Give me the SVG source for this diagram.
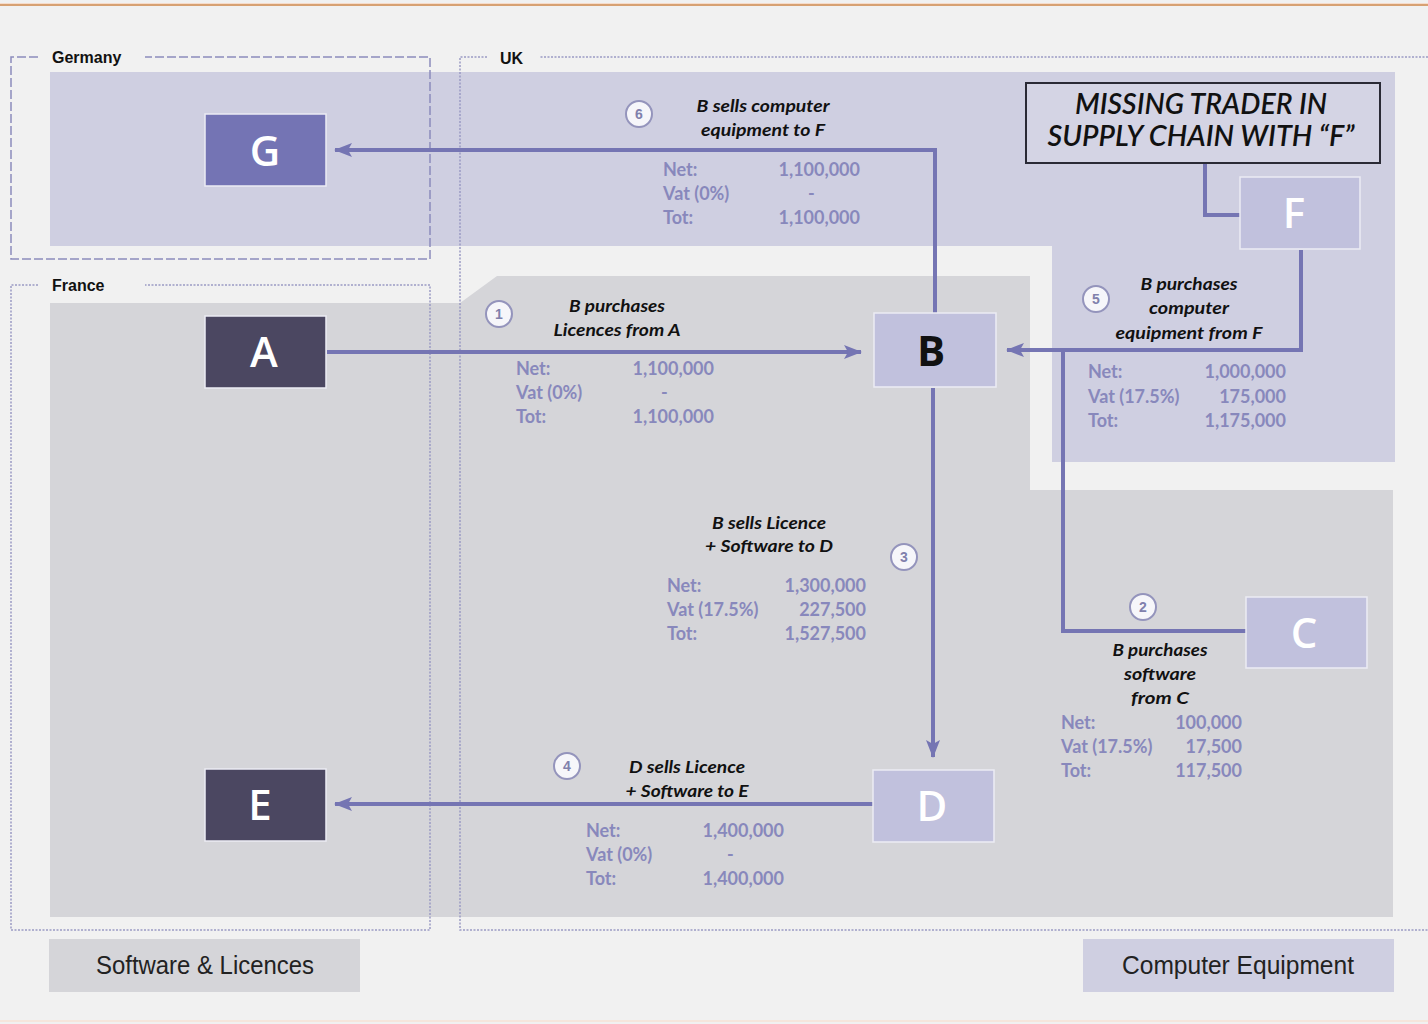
<svg xmlns="http://www.w3.org/2000/svg" width="1428" height="1024" viewBox="0 0 1428 1024">
<defs>
<style>
.cl{font-family:"Liberation Sans",Arial,sans-serif;font-weight:bold;font-size:16px;fill:#111}
.lbl{font-family:"Lato","Liberation Sans",sans-serif;font-style:italic;font-weight:bold;font-size:17px;fill:#111;text-anchor:middle}
.val{font-family:"Lato","Liberation Sans",sans-serif;font-weight:bold;font-size:18px;fill:#8888bc}
.vr{text-anchor:end}
.num{font-family:"Liberation Sans",Arial,sans-serif;font-weight:bold;font-size:14px;fill:#8080ac;text-anchor:middle}
.nc{fill:#f6f6fa;stroke:#9494bc;stroke-width:2}
.nl{font-family:"Open Sans","Liberation Sans",sans-serif;font-weight:600;font-size:42px;fill:#fff;text-anchor:middle}
.conn{fill:none;stroke:#7575b3;stroke-width:4}
.dash{fill:none;stroke:#8c8cbc;stroke-width:1.5;stroke-dasharray:9 3}
.dot{fill:none;stroke:#9a9ac4;stroke-width:1.5;stroke-dasharray:2 1.5}
.leg{font-family:"Liberation Sans",Arial,sans-serif;font-size:25px;fill:#222;text-anchor:middle}
</style>
<marker id="ah" viewBox="0 0 18 14" refX="17" refY="7" markerWidth="18" markerHeight="14" markerUnits="userSpaceOnUse" orient="auto">
<path d="M0,0 L18,7 L0,14 L4,7 Z" fill="#7575b3"/>
</marker>
</defs>
<rect width="1428" height="1024" fill="#f1f1f1"/>
<rect x="0" y="3" width="1428" height="3" fill="#f6dccb"/>
<line x1="0" y1="5" x2="1428" y2="5" stroke="#d7a173" stroke-width="2"/>
<line x1="0" y1="1021" x2="1428" y2="1021" stroke="#f6e6dc" stroke-width="2"/>

<g id="regions">
<path d="M50,72 H1395 V462 H1052 V246 H50 Z" fill="#cfcfe1"/>
<path d="M50,303 H460 L497,276 H1030 V490 H1393 V917 H50 Z" fill="#d5d5d9"/>
</g>

<g id="germany">
<path class="dash" d="M38,57 H11 V259 H430 V57 H145"/>
<text class="cl" x="52" y="63">Germany</text>
</g>
<g id="france">
<path class="dot" d="M38,285 H11 V930 H430 V285 H145"/>
<text class="cl" x="52" y="291">France</text>
</g>
<g id="uk">
<path class="dot" d="M487,57 H460 V930 H1428 M1428,57 H540"/>
<text class="cl" x="500" y="64">UK</text>
</g>

<g id="connectors">
<path class="conn" d="M935,313 V150 H335" marker-end="url(#ah)"/>
<path class="conn" d="M327,352 H861" marker-end="url(#ah)"/>
<path class="conn" d="M1301,250 V350 H1007" marker-end="url(#ah)"/>
<path class="conn" d="M1246,631 H1063 V350"/>
<path class="conn" d="M933,388 V757" marker-end="url(#ah)"/>
<path class="conn" d="M873,804 H335" marker-end="url(#ah)"/>
<path class="conn" d="M1205,163 V215 H1240"/>
</g>

<g id="node-G"><rect x="205" y="114" width="121" height="72" fill="#7474b4" stroke="#ececf4" stroke-width="1.5"/><text class="nl" x="265" y="166">G</text></g>
<g id="node-A"><rect x="205" y="316" width="121" height="72" fill="#4b4761" stroke="#ececf4" stroke-width="1.5"/><text class="nl" x="264" y="367">A</text></g>
<g id="node-E"><rect x="205" y="769" width="121" height="72" fill="#4b4761" stroke="#ececf4" stroke-width="1.5"/><text class="nl" x="260" y="820">E</text></g>
<g id="node-B"><rect x="874" y="313" width="122" height="74" fill="#c1c1dd" stroke="#ececf4" stroke-width="1.5"/><text class="nl" x="931" y="366" style="fill:#111;font-weight:700">B</text></g>
<g id="node-F"><rect x="1240" y="177" width="120" height="72" fill="#c1c1dd" stroke="#ececf4" stroke-width="1.5"/><text class="nl" x="1294" y="228">F</text></g>
<g id="node-C"><rect x="1246" y="597" width="121" height="71" fill="#c1c1dd" stroke="#ececf4" stroke-width="1.5"/><text class="nl" x="1304" y="648">C</text></g>
<g id="node-D"><rect x="873" y="770" width="121" height="72" fill="#c1c1dd" stroke="#ececf4" stroke-width="1.5"/><text class="nl" x="932" y="821">D</text></g>

<g id="title">
<rect x="1026" y="83" width="354" height="80" fill="#d4d4e4" stroke="#2a2a35" stroke-width="2"/>
<text x="1201" y="114" font-family="Lato, 'Liberation Sans', sans-serif" font-style="italic" font-weight="600" font-size="29" fill="#111" text-anchor="middle" textLength="252" lengthAdjust="spacingAndGlyphs">MISSING TRADER IN</text>
<text x="1201" y="146" font-family="Lato, 'Liberation Sans', sans-serif" font-style="italic" font-weight="600" font-size="29" fill="#111" text-anchor="middle" textLength="307" lengthAdjust="spacingAndGlyphs">SUPPLY CHAIN WITH “F”</text>
</g>

<g id="label-6">
<circle class="nc" cx="639" cy="114" r="13"/><text class="num" x="639" y="119">6</text>
<text class="lbl" x="763" y="112" textLength="133" lengthAdjust="spacingAndGlyphs">B sells computer</text>
<text class="lbl" x="763" y="136" textLength="124" lengthAdjust="spacingAndGlyphs">equipment to F</text>
<text class="val" x="663" y="176">Net:</text><text class="val vr" x="860" y="176">1,100,000</text>
<text class="val" x="663" y="200">Vat (0%)</text><text class="val" x="808" y="200">-</text>
<text class="val" x="663" y="224">Tot:</text><text class="val vr" x="860" y="224">1,100,000</text>
</g>

<g id="label-1">
<circle class="nc" cx="499" cy="314" r="13"/><text class="num" x="499" y="319">1</text>
<text class="lbl" x="617" y="312" textLength="96" lengthAdjust="spacingAndGlyphs">B purchases</text>
<text class="lbl" x="617" y="336" textLength="127" lengthAdjust="spacingAndGlyphs">Licences from A</text>
<text class="val" x="516" y="375">Net:</text><text class="val vr" x="714" y="375">1,100,000</text>
<text class="val" x="516" y="399">Vat (0%)</text><text class="val" x="661" y="399">-</text>
<text class="val" x="516" y="423">Tot:</text><text class="val vr" x="714" y="423">1,100,000</text>
</g>

<g id="label-5">
<circle class="nc" cx="1096" cy="299" r="13"/><text class="num" x="1096" y="304">5</text>
<text class="lbl" x="1189" y="290" textLength="97" lengthAdjust="spacingAndGlyphs">B purchases</text>
<text class="lbl" x="1189" y="314" textLength="80" lengthAdjust="spacingAndGlyphs">computer</text>
<text class="lbl" x="1189" y="339" textLength="147" lengthAdjust="spacingAndGlyphs">equipment from F</text>
<text class="val" x="1088" y="378">Net:</text><text class="val vr" x="1286" y="378">1,000,000</text>
<text class="val" x="1088" y="403">Vat (17.5%)</text><text class="val vr" x="1286" y="403">175,000</text>
<text class="val" x="1088" y="427">Tot:</text><text class="val vr" x="1286" y="427">1,175,000</text>
</g>

<g id="label-3">
<circle class="nc" cx="904" cy="557" r="13"/><text class="num" x="904" y="562">3</text>
<text class="lbl" x="769" y="529" textLength="114" lengthAdjust="spacingAndGlyphs">B sells Licence</text>
<text class="lbl" x="769" y="552" textLength="128" lengthAdjust="spacingAndGlyphs">+ Software to D</text>
<text class="val" x="667" y="592">Net:</text><text class="val vr" x="866" y="592">1,300,000</text>
<text class="val" x="667" y="616">Vat (17.5%)</text><text class="val vr" x="866" y="616">227,500</text>
<text class="val" x="667" y="640">Tot:</text><text class="val vr" x="866" y="640">1,527,500</text>
</g>

<g id="label-2">
<circle class="nc" cx="1143" cy="607" r="13"/><text class="num" x="1143" y="612">2</text>
<text class="lbl" x="1160" y="656" textLength="95" lengthAdjust="spacingAndGlyphs">B purchases</text>
<text class="lbl" x="1160" y="680" textLength="72" lengthAdjust="spacingAndGlyphs">software</text>
<text class="lbl" x="1160" y="704" textLength="58" lengthAdjust="spacingAndGlyphs">from C</text>
<text class="val" x="1061" y="729">Net:</text><text class="val vr" x="1242" y="729">100,000</text>
<text class="val" x="1061" y="753">Vat (17.5%)</text><text class="val vr" x="1242" y="753">17,500</text>
<text class="val" x="1061" y="777">Tot:</text><text class="val vr" x="1242" y="777">117,500</text>
</g>

<g id="label-4">
<circle class="nc" cx="567" cy="766" r="13"/><text class="num" x="567" y="771">4</text>
<text class="lbl" x="687" y="773" textLength="116" lengthAdjust="spacingAndGlyphs">D sells Licence</text>
<text class="lbl" x="687" y="797" textLength="123" lengthAdjust="spacingAndGlyphs">+ Software to E</text>
<text class="val" x="586" y="837">Net:</text><text class="val vr" x="784" y="837">1,400,000</text>
<text class="val" x="586" y="861">Vat (0%)</text><text class="val" x="727" y="861">-</text>
<text class="val" x="586" y="885">Tot:</text><text class="val vr" x="784" y="885">1,400,000</text>
</g>

<g id="legend-software">
<rect x="49" y="939" width="311" height="53" fill="#d5d5d9"/>
<text class="leg" x="205" y="974" textLength="218" lengthAdjust="spacingAndGlyphs">Software &amp; Licences</text>
</g>
<g id="legend-equipment">
<rect x="1083" y="939" width="311" height="53" fill="#cfcfe1"/>
<text class="leg" x="1238" y="974" textLength="232" lengthAdjust="spacingAndGlyphs">Computer Equipment</text>
</g>
</svg>
